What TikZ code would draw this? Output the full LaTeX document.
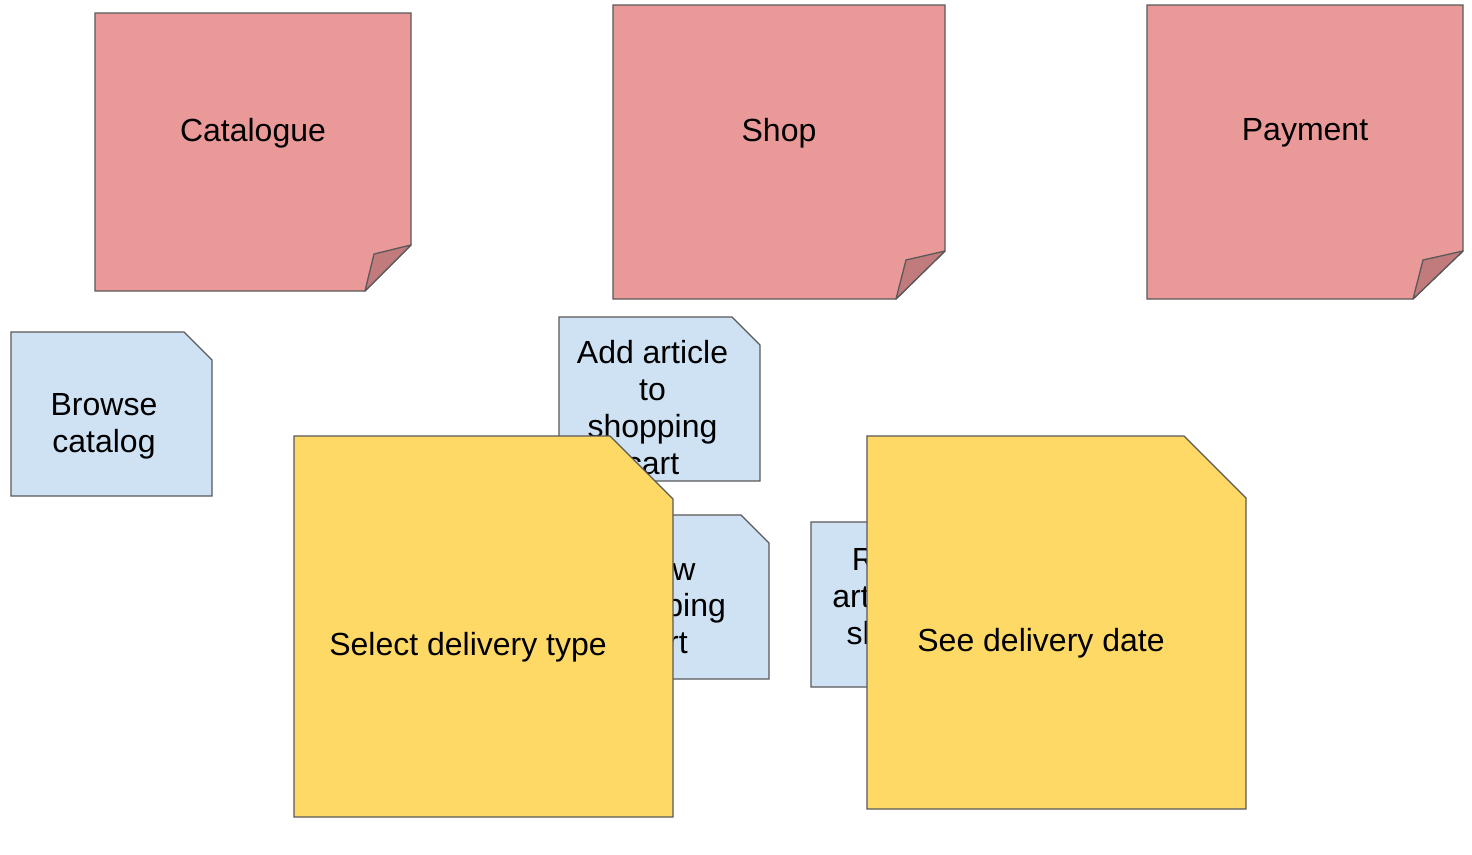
\documentclass[tikz,border=0pt]{standalone}
\usepackage{fontspec}
\setmainfont{Liberation Sans}
\definecolor{redfill}{HTML}{EA9999}
\definecolor{redfold}{HTML}{C27B7C}
\definecolor{bluefill}{HTML}{CFE2F3}
\definecolor{yellowfill}{HTML}{FFD966}
\definecolor{edge}{HTML}{595959}
\tikzset{
  notefont/.style={font=\fontsize{32}{36.8}\selectfont, inner sep=0pt, align=center, text=black},
  rednote/.style={fill=redfill, draw=edge, line width=1.3pt, line join=miter},
  redfoldstyle/.style={fill=redfold, draw=edge, line width=1.3pt, line join=round},
  bluenote/.style={fill=bluefill, draw=edge, line width=1.3pt},
  yellownote/.style={fill=yellowfill, draw=edge, line width=1.3pt},
}
\begin{document}
\begin{tikzpicture}[x=1pt, y=-1pt]
\useasboundingbox[fill=white] (0,0) rectangle (1472,854);

% Red sticky notes
\draw[rednote] (95,13) -- (411,13) -- (411,245) -- (365,291) -- (95,291) -- cycle;
\draw[redfoldstyle] (411,245) -- (374,254) -- (365,291) -- cycle;
\node[notefont] (catalogue) at (253,133) {Catalogue};

\draw[rednote] (613,5) -- (945,5) -- (945,251) -- (896,299) -- (613,299) -- cycle;
\draw[redfoldstyle] (945,251) -- (906,260) -- (896,299) -- cycle;
\node[notefont] (shop) at (779,133) {Shop};

\draw[rednote] (1147,5) -- (1463,5) -- (1463,251) -- (1413,299) -- (1147,299) -- cycle;
\draw[redfoldstyle] (1463,251) -- (1423,260) -- (1413,299) -- cycle;
\node[notefont] (payment) at (1305,133) {Payment};

% Blue notes
\draw[bluenote] (11,332) -- (184,332) -- (212,360) -- (212,496) -- (11,496) -- cycle;
\node[notefont] (browse) at (104,426) {Browse\\catalog};

\draw[bluenote] (559,317) -- (732,317) -- (760,345) -- (760,481) -- (559,481) -- cycle;
\node[notefont] (add) at (652.5,407.5) {Add article\\to\\shopping\\cart};

\draw[bluenote] (568,515) -- (741,515) -- (769,543) -- (769,679) -- (568,679) -- cycle;
\node[notefont] (view) at (661,605.5) {View\\shopping\\cart};

\draw[bluenote] (811,522) -- (984,522) -- (1012,550) -- (1012,687) -- (811,687) -- cycle;
\node[notefont] (remove) at (911.5,615) {Remove\\article from\\shopping\\cart};

% Yellow notes
\draw[yellownote] (294,436) -- (610,436) -- (673,499) -- (673,817) -- (294,817) -- cycle;
\node[notefont] (select) at (468,647) {Select delivery type};

\draw[yellownote] (867,436) -- (1184,436) -- (1246,498) -- (1246,809) -- (867,809) -- cycle;
\node[notefont] (see) at (1041,643) {See delivery date};
\end{tikzpicture}
\end{document}
